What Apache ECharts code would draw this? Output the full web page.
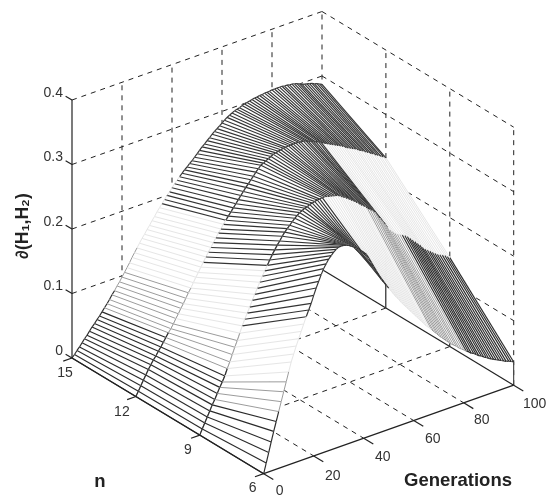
<!DOCTYPE html>
<html>
<head>
<meta charset="utf-8">
<style>html,body{margin:0;padding:0;background:#fff}#c{width:549px;height:495px}</style>
<script src="https://cdn.jsdelivr.net/npm/echarts@6/dist/echarts.min.js"></script>
</head>
<body>
<div id="c"></div>
<script>
// Tick labels
const nTicks = [15, 12, 9, 6];
const genTicks = [0, 20, 40, 60, 80, 100];
const zTicks = [0, 0.1, 0.2, 0.3, 0.4];
// Surface values: z x 1000, one value per generation 0..100
const zN15 = [0,4,9,13,18,23,27,32,37,41,46,50,55,60,65,70,76,81,87,92,98,104,110,116,123,129,135,141,147,152,158,163,169,174,180,185,190,195,200,204,209,214,218,222,226,230,233,237,240,244,248,252,256,259,263,266,270,273,276,279,282,285,288,290,292,294,295,296,298,299,300,301,302,303,303,304,304,305,305,305,306,306,306,306,306,305,305,304,304,303,302,300,298,297,296,295,294,292,291,289,287];
const zN12 = [0,7,14,21,28,35,41,47,52,58,63,69,75,81,86,92,99,105,112,118,125,132,138,145,152,158,165,171,178,184,190,196,202,208,213,219,224,229,234,239,244,249,254,259,264,268,273,277,282,286,290,292,294,296,298,300,301,302,303,304,304,305,305,305,305,305,304,304,303,301,300,298,296,295,293,290,288,286,284,282,280,278,276,274,271,269,267,265,263,260,258,256,253,251,248,246,243,241,238,236,233];
const zN9 = [0,8,16,24,32,40,47,55,63,70,78,88,97,107,117,126,136,146,155,163,171,180,188,196,204,212,219,226,233,240,246,252,257,263,268,272,276,280,284,287,290,292,294,295,297,298,299,300,300,301,301,300,299,298,297,296,294,291,289,286,283,280,277,274,270,267,264,260,257,254,250,243,238,232,226,219,214,210,206,203,201,199,197,194,190,186,182,178,174,169,165,162,159,156,153,150,148,146,144,141,138];
const zN6 = [0,15,30,45,60,74,88,102,116,130,144,158,169,180,190,200,210,220,229,238,249,259,268,277,285,291,297,301,305,308,310,310,310,309,307,305,302,299,296,292,288,284,277,269,261,253,245,237,231,225,219,213,207,201,196,190,185,180,175,170,165,160,155,150,145,140,136,132,127,123,118,114,110,106,102,98,95,92,88,85,82,79,76,73,71,68,65,63,60,58,55,53,51,49,47,45,43,41,40,38,36];
const curves = [zN15, zN12, zN9, zN6];
const GEN_MAX = 100, N_BACK = 15, N_FRONT = 6, Z_TOP = 0.4;

// Orthographic view of the three axes
const view = {x0:72, y0:358, gx:2.5, gy:-0.885, nx:21.3, ny:12.85, zs:645};
function P(n, g, z) {
  return [view.x0 + view.gx*g + view.nx*(N_BACK-n),
          view.y0 + view.gy*g + view.ny*(N_BACK-n) - view.zs*z];
}
const bands = [[0.08,'#2a2a2a',1.15],[0.135,'#9c9c9c',1],[0.22,'#e6e6e6',1],[9,'#333333',1.15]];
function bandOf(z){ for (const b of bands) if (z < b[0]) return b; return bands[3]; }

// dashed grid rows: n1,g1,z1,n2,g2,z2
const dashed = [];
zTicks.forEach(z => { if (z>0){
  dashed.push([N_BACK,0,z,N_BACK,GEN_MAX,z]);
  dashed.push([N_BACK,GEN_MAX,z,N_FRONT,GEN_MAX,z]);
}});
genTicks.forEach(g => { if (g>0 && g<GEN_MAX){
  dashed.push([N_BACK,g,0,N_BACK,g,Z_TOP]);
  dashed.push([N_BACK,g,0,N_FRONT,g,0]);
}});
nTicks.forEach(n => { if (n<N_BACK && n>N_FRONT){
  dashed.push([n,GEN_MAX,0,n,GEN_MAX,Z_TOP]);
  dashed.push([n,0,0,n,GEN_MAX,0]);
}});
dashed.push([N_BACK,GEN_MAX,0,N_BACK,GEN_MAX,Z_TOP]);
dashed.push([N_FRONT,GEN_MAX,0,N_FRONT,GEN_MAX,Z_TOP]);

// solid axes and ticks
const solid = [
  [N_BACK,0,0,N_BACK,0,Z_TOP],
  [N_FRONT,0,0,N_FRONT,GEN_MAX,0],
  [N_BACK,0,0,N_FRONT,0,0]
];
zTicks.forEach(z => solid.push([N_BACK,0,z,N_BACK+0.3,0,z]));
nTicks.forEach(n => solid.push([n,0,0,n,-3.5,0]));
genTicks.forEach(g => solid.push([N_FRONT,g,0,N_FRONT-0.45,g,0]));

// surface cells in paint order (back to front)
const nRows = [15,12,9,6];
const cells = [];
for (let s=0; s<3; s++) for (let i=GEN_MAX-1; i>=0; i--) cells.push([s,i]);
const curtain = [0,1,2].map(s => [s,0]);

// text labels
const labels = [];
zTicks.forEach(z => labels.push({t:String(z), a:[N_BACK,0,z], dx:-9, dy:-7, align:'right'}));
nTicks.forEach((n,i) => labels.push({t:String(n), a:[n,0,0], dx:[-7,-14,-12,-11][i], dy:[15,16,15,14][i], align:'center'}));
genTicks.forEach((g,i) => labels.push({t:String(g), a:[N_FRONT,g,0], dx:[16,19,19,19,18,21][i], dy:[17,20,19,19,17,19][i], align:'center'}));

function coordLine(api,a,b,style){
  const p=api.coord(P(a[0],a[1],a[2])), q=api.coord(P(b[0],b[1],b[2]));
  return {type:'line',shape:{x1:p[0],y1:p[1],x2:q[0],y2:q[1]},style:style};
}
const lineRender = style => (params,api) => coordLine(api,
  [api.value(0),api.value(1),api.value(2)],[api.value(3),api.value(4),api.value(5)],style);

function zOf(r,i){ return curves[r][i]/1000; }

function renderCell(params,api){
  const s=api.value(0), i=api.value(1), nA=nRows[s], nB=nRows[s+1];
  const zA0=zOf(s,i), zA1=zOf(s,i+1), zB0=zOf(s+1,i), zB1=zOf(s+1,i+1);
  const pts=[[nA,i,zA0],[nA,i+1,zA1],[nB,i+1,zB1],[nB,i,zB0]].map(v=>api.coord(P(v[0],v[1],v[2])));
  const kids=[{type:'polygon',shape:{points:pts},style:{fill:'#fff',stroke:'#fff',lineWidth:0.6}}];
  const ln=(a,b,z)=>{const c=bandOf(z);kids.push(coordLine(api,a,b,{stroke:c[1],lineWidth:c[2]}));};
  ln([nA,i+1,zA1],[nB,i+1,zB1],zB1);
  ln([nA,i,zA0],[nA,i+1,zA1],zA0);
  ln([nB,i,zB0],[nB,i+1,zB1],zB0);
  if(i===0) ln([nA,i,zA0],[nB,i,zB0],zB0);
  return {type:'group',children:kids};
}
function renderCurtain(params,api){
  const s=api.value(0), nA=nRows[s], nB=nRows[s+1], g=GEN_MAX;
  const zA=zOf(s,g), zB=zOf(s+1,g);
  const pts=[[nA,g,0],[nA,g,zA],[nB,g,zB],[nB,g,0]].map(v=>api.coord(P(v[0],v[1],v[2])));
  const kids=[{type:'polygon',shape:{points:pts},style:{fill:'#fff'}}];
  [[nA,zA],[nB,zB]].forEach(e=>{
    let lo=0;
    for(const b of bands){
      const hi=Math.min(b[0],e[1]);
      if(hi>lo){kids.push(coordLine(api,[e[0],g,lo],[e[0],g,hi],{stroke:b[1],lineWidth:1}));lo=hi;}
    }
  });
  kids.push(coordLine(api,[nA,g,0],[nB,g,0],{stroke:'#222',lineWidth:1.2}));
  return {type:'group',children:kids};
}
const TXT="'Liberation Sans', Arial, sans-serif";
function renderLabel(params,api){
  const l=labels[api.value(0)], p=api.coord(P(l.a[0],l.a[1],l.a[2]));
  return {type:'text',style:{text:l.t,x:p[0]+l.dx,y:p[1]+l.dy,fill:'#333',
    font:'14px '+TXT,align:l.align,verticalAlign:'middle'}};
}
const titles=[
  {t:'n',x:100,y:482,rot:0},
  {t:'Generations',x:458,y:481,rot:0},
  {t:'\u2202(H\u2081,H\u2082)',x:23,y:226,rot:Math.PI/2}
];
function renderTitle(params,api){
  const l=titles[api.value(0)], p=api.coord([l.x,l.y]);
  return {type:'text',x:p[0],y:p[1],rotation:l.rot,style:{text:l.t,x:0,y:0,fill:'#222',
    font:(l.rot?'bold 17.5px ':'bold 18.5px ')+TXT,align:'center',verticalAlign:'middle'}};
}
const base={type:'custom',coordinateSystem:'cartesian2d',silent:true,animation:false,clip:false,progressive:0};
const chart=echarts.init(document.getElementById('c'),null,{renderer:'canvas'});
chart.setOption({
  animation:false,
  backgroundColor:'#fff',
  grid:{left:0,right:0,top:0,bottom:0},
  xAxis:{type:'value',min:0,max:549,show:false},
  yAxis:{type:'value',min:0,max:495,inverse:true,show:false},
  series:[
    Object.assign({},base,{name:'grid',z:1,data:dashed,renderItem:lineRender({stroke:'#222',lineWidth:1,lineDash:[5,5]})}),
    Object.assign({},base,{name:'curtain',z:2,data:curtain,renderItem:renderCurtain}),
    Object.assign({},base,{name:'surface',z:3,data:cells,renderItem:renderCell}),
    Object.assign({},base,{name:'axes',z:4,data:solid,renderItem:lineRender({stroke:'#222',lineWidth:1.2})}),
    Object.assign({},base,{name:'labels',z:5,data:labels.map((_,i)=>[i,0]),renderItem:renderLabel}),
    Object.assign({},base,{name:'titles',z:5,data:titles.map((_,i)=>[i,0]),renderItem:renderTitle})
  ]
});
</script>
</body>
</html>
